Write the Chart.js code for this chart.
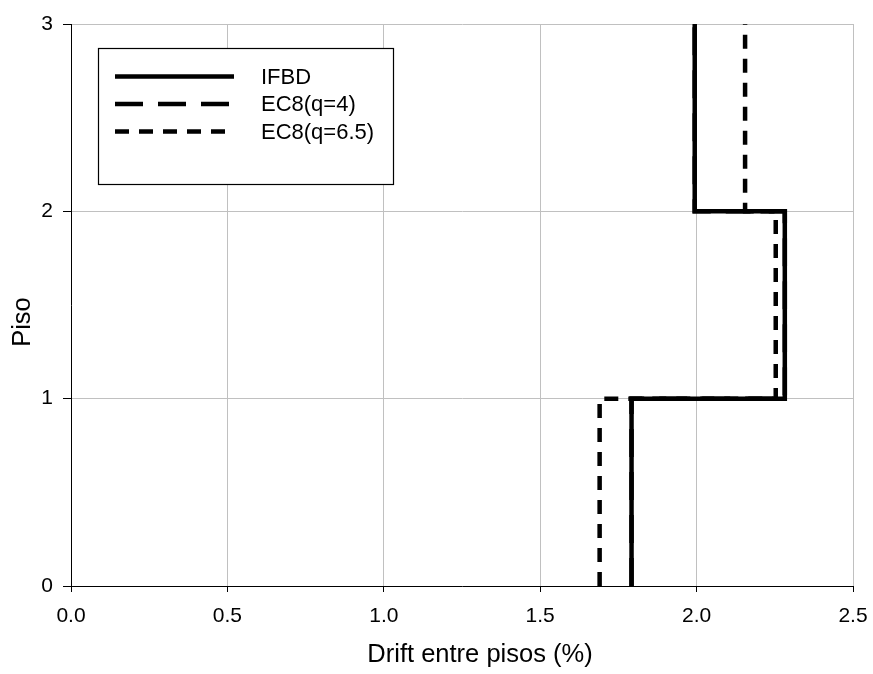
<!DOCTYPE html>
<html>
<head>
<meta charset="utf-8">
<script src="https://cdn.jsdelivr.net/npm/chart.js@4"></script>
<style>
html,body{margin:0;padding:0;background:#fff;}
#wrap{width:873px;height:674px;}
</style>
</head>
<body>
<div id="wrap"><canvas id="c" width="873" height="674"></canvas></div>
<script>
// Data (drift per storey, storey i spans floor i-1 to floor i)
const floors = [0, 1, 2, 3];
const seriesNames = ['IFBD', 'EC8(q=4)', 'EC8(q=6.5)'];
const ifbd = [1.792, 2.282, 1.994];
const ec8q4 = [1.792, 2.282, 1.994];
const ec8q65 = [1.690, 2.253, 2.155];
const xTicks = [0.0, 0.5, 1.0, 1.5, 2.0, 2.5];
const yTicks = [0, 1, 2, 3];
const xTitle = 'Drift entre pisos (%)';
const yTitle = 'Piso';

function profile(drifts) {
  const pts = [];
  drifts.forEach((d, i) => {
    pts.push({x: d, y: floors[i]});
    pts.push({x: d, y: floors[i + 1]});
  });
  return pts;
}

const FONT = 'Liberation Sans, Arial, sans-serif';

const decorPlugin = {
  id: 'decor',
  afterDraw(chart) {
    const ctx = chart.ctx;
    ctx.save();
    // axis titles
    ctx.fillStyle = '#000';
    ctx.font = '25.5px ' + FONT;
    ctx.textAlign = 'center';
    ctx.textBaseline = 'middle';
    ctx.fillText(xTitle, 480, 655);
    ctx.save();
    ctx.translate(23, 322);
    ctx.rotate(-Math.PI / 2);
    ctx.fillText(yTitle, 0, 0);
    ctx.restore();
    // legend box
    const bx = 98, by = 48, bw = 295, bh = 136;
    ctx.fillStyle = '#fff';
    ctx.fillRect(bx, by, bw, bh);
    ctx.strokeStyle = '#000';
    ctx.lineWidth = 1.2;
    ctx.setLineDash([]);
    ctx.strokeRect(bx + 0.5, by + 0.5, bw, bh);
    chart.data.datasets.forEach((ds, i) => {
      const y = 76.5 + i * 27.5;
      ctx.beginPath();
      ctx.setLineDash(ds.borderDash || []);
      ctx.lineWidth = ds.borderWidth;
      ctx.strokeStyle = ds.borderColor;
      ctx.lineCap = 'butt';
      ctx.moveTo(115, y);
      ctx.lineTo(234, y);
      ctx.stroke();
      ctx.setLineDash([]);
      ctx.fillStyle = '#000';
      ctx.font = '22px ' + FONT;
      ctx.textBaseline = 'middle';
      ctx.textAlign = 'left';
      ctx.fillText(ds.label, 261, y + 1);
    });
    ctx.restore();
  }
};

new Chart(document.getElementById('c'), {
  type: 'scatter',
  data: {
    datasets: [
      {label: seriesNames[0], data: profile(ifbd), showLine: true, borderColor: '#000', borderWidth: 4.5, pointRadius: 0, borderDash: [], order: 3},
      {label: seriesNames[1], data: profile(ec8q4), showLine: true, borderColor: '#000', borderWidth: 4.5, pointRadius: 0, borderDash: [28, 15], order: 2},
      {label: seriesNames[2], data: profile(ec8q65), showLine: true, borderColor: '#000', borderWidth: 4.5, pointRadius: 0, borderDash: [14, 10], order: 1}
    ]
  },
  options: {
    responsive: false,
    animation: false,
    layout: {padding: {top: 24, right: 20, left: 0, bottom: 0}},
    plugins: {legend: {display: false}, tooltip: {enabled: false}},
    elements: {line: {tension: 0, borderJoinStyle: 'miter', borderCapStyle: 'butt'}},
    scales: {
      x: {
        type: 'linear', min: 0, max: 2.5,
        afterBuildTicks: s => { s.ticks = xTicks.map(v => ({value: v})); },
        afterFit: s => { s.height = 88; s.paddingRight = 0; s.paddingLeft = 0; },
        ticks: {color: '#000', font: {family: FONT, size: 21}, padding: 12, callback: v => Number(v).toFixed(1), maxRotation: 0},
        grid: {color: '#c0c0c0', lineWidth: 1, tickLength: 6, tickColor: '#000'},
        border: {color: '#000', width: 1},
        title: {display: false}
      },
      y: {
        type: 'linear', min: 0, max: 3,
        afterBuildTicks: s => { s.ticks = yTicks.map(v => ({value: v})); },
        afterFit: s => { s.width = 71; s.paddingTop = 0; s.paddingBottom = 0; },
        ticks: {color: '#000', font: {family: FONT, size: 21}, padding: 10},
        grid: {color: '#c0c0c0', lineWidth: 1, tickLength: 8, tickColor: '#000'},
        border: {color: '#000', width: 1},
        title: {display: false}
      }
    }
  },
  plugins: [decorPlugin]
});
</script>
</body>
</html>
